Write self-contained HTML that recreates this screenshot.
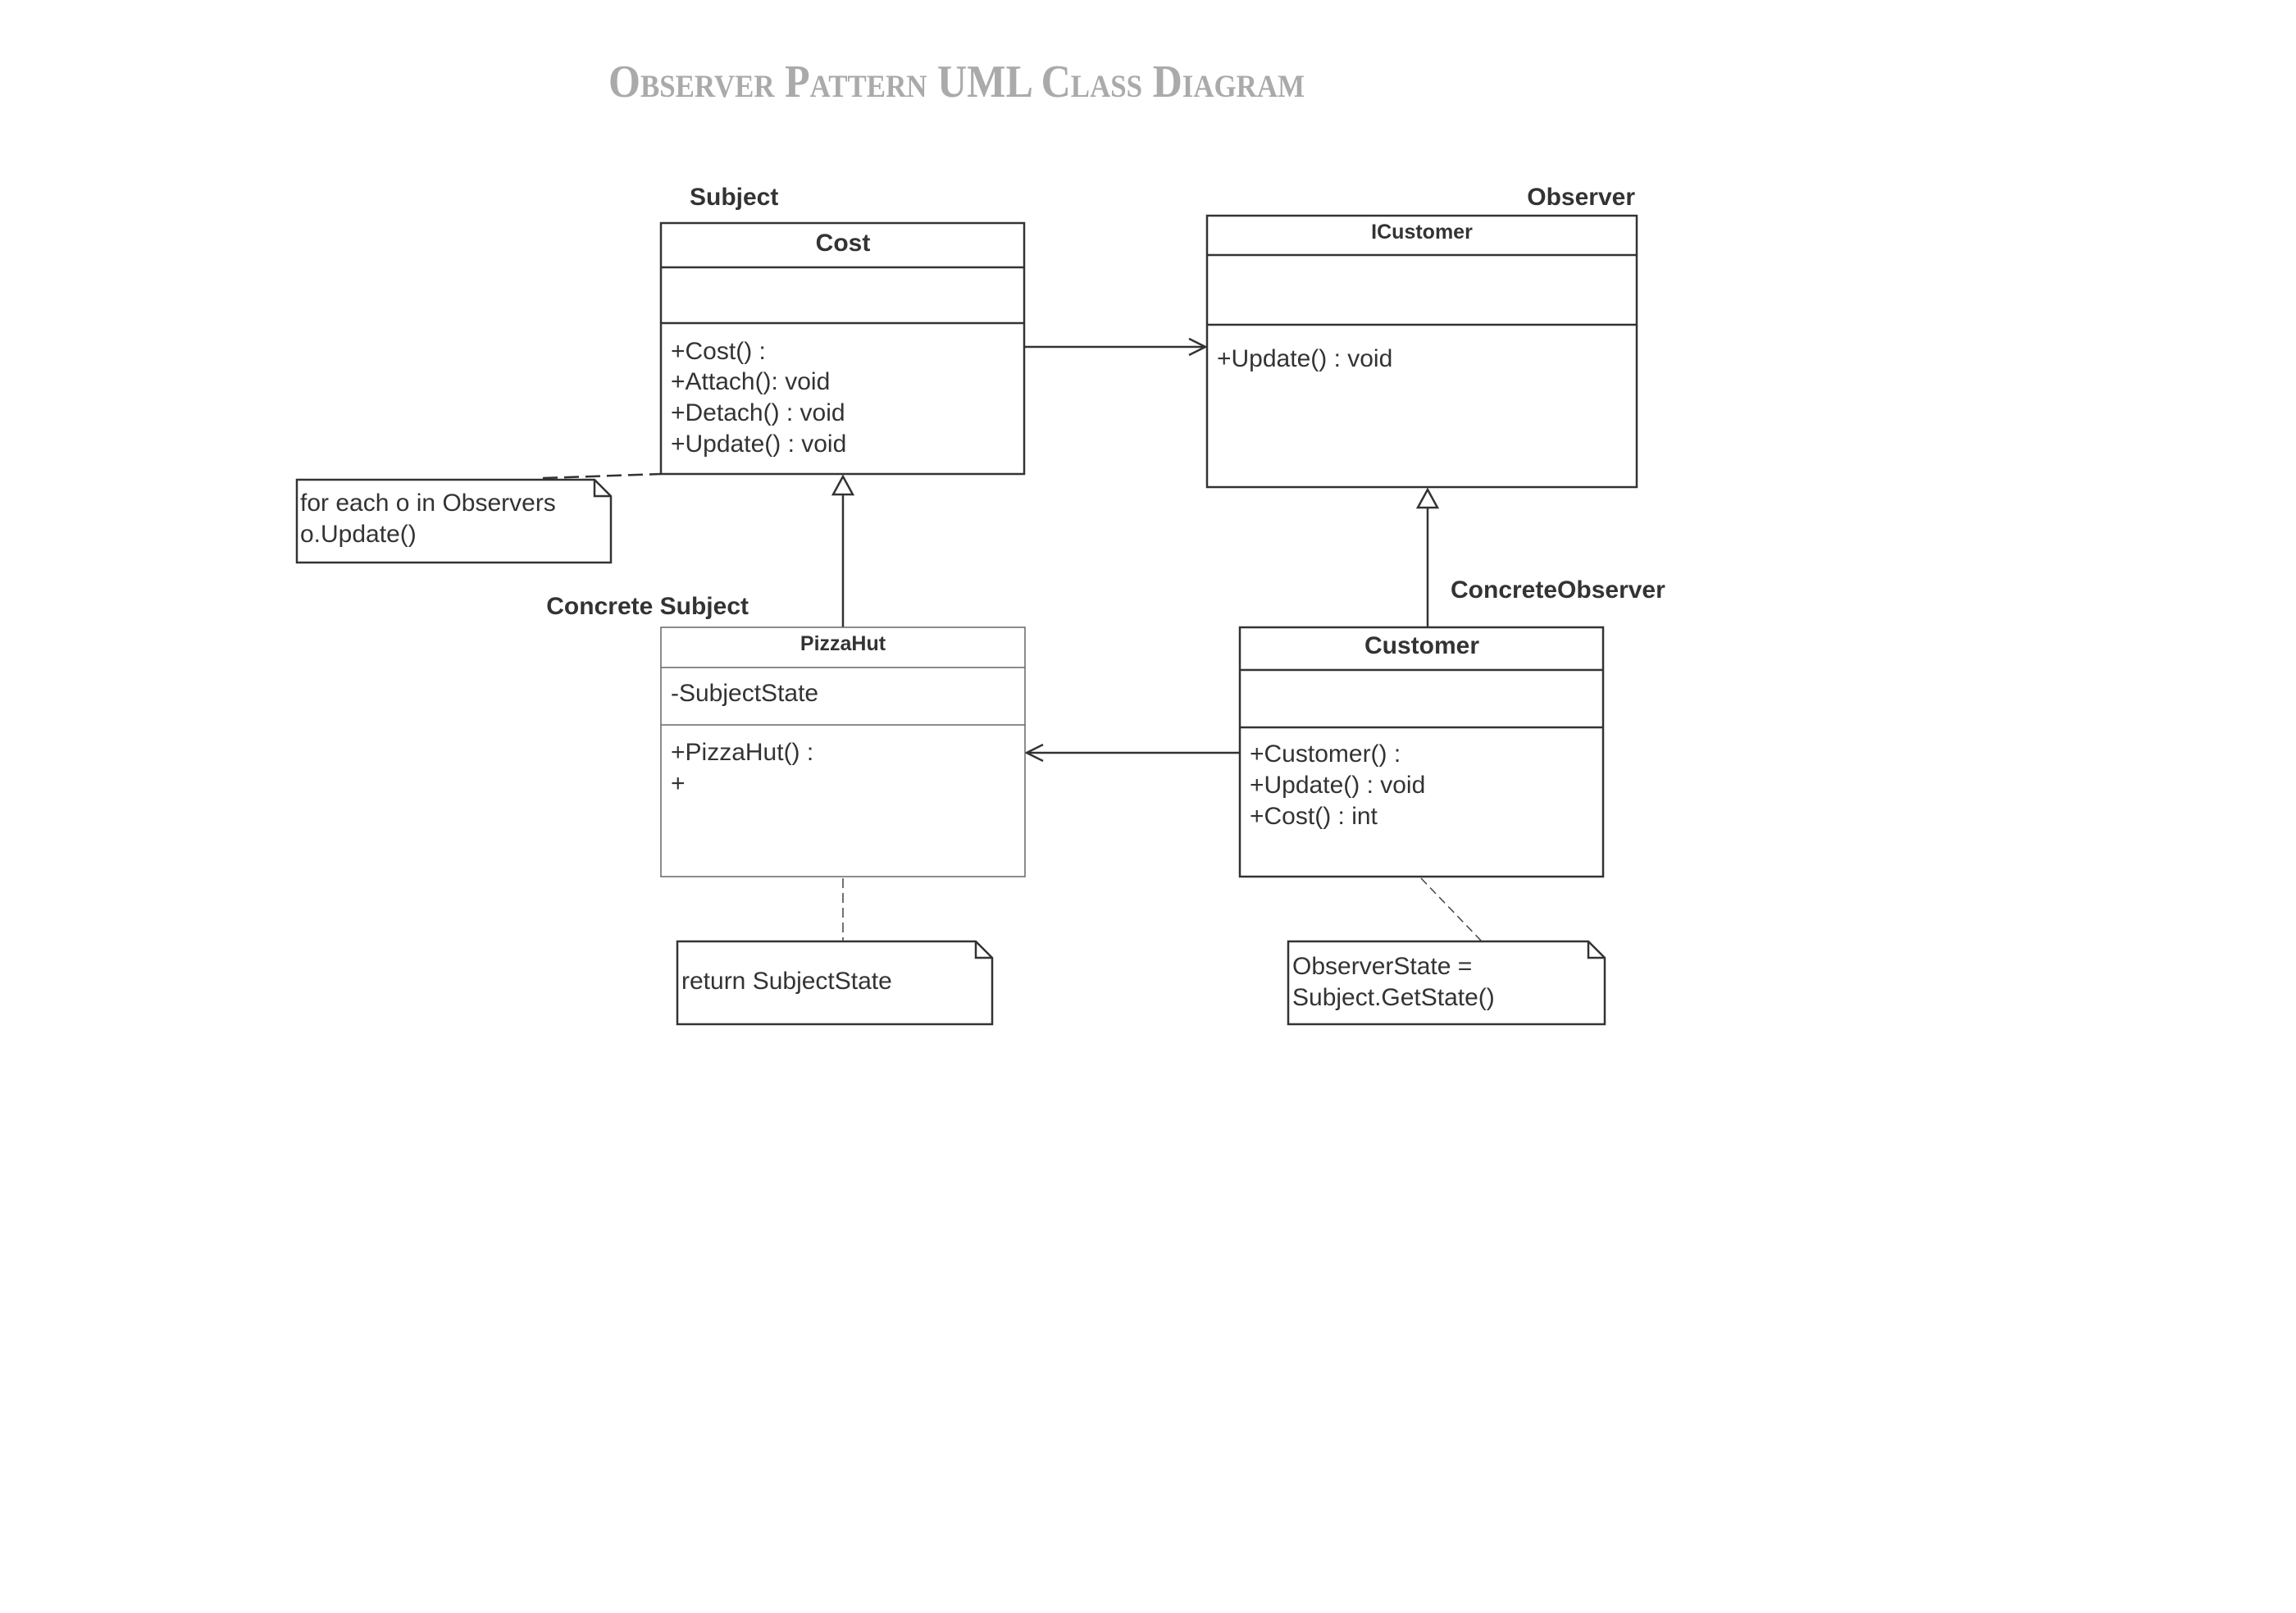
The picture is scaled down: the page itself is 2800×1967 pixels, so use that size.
<!DOCTYPE html>
<html><head><meta charset="utf-8"><style>
html,body{margin:0;padding:0;background:#fff;}
svg{display:block;}
text{font-family:"Liberation Sans",sans-serif;fill:#333;}
</style></head><body>
<svg width="2800" height="1967" viewBox="0 0 2800 1967" xmlns="http://www.w3.org/2000/svg">
<text x="742" y="118" font-family="Liberation Serif" font-weight="bold" font-size="56" style="font-family:'Liberation Serif',serif;fill:#aaa;font-variant:small-caps" textLength="849" lengthAdjust="spacingAndGlyphs">Observer Pattern UML Class Diagram</text>

<g stroke="#333" stroke-width="2.5" fill="none">
<!-- Cost -->
<rect x="806" y="272" width="443" height="306" fill="#fff"/>
<line x1="806" y1="326" x2="1249" y2="326"/>
<line x1="806" y1="394" x2="1249" y2="394"/>
<!-- ICustomer -->
<rect x="1472" y="263" width="524" height="331" fill="#fff"/>
<line x1="1472" y1="311" x2="1996" y2="311"/>
<line x1="1472" y1="396" x2="1996" y2="396"/>
<!-- Customer -->
<rect x="1512" y="765" width="443" height="304" fill="#fff"/>
<line x1="1512" y1="817" x2="1955" y2="817"/>
<line x1="1512" y1="887" x2="1955" y2="887"/>
<!-- assoc arrows -->
<line x1="1249" y1="423" x2="1470" y2="423"/>
<polyline points="1450,413 1470,423 1450,433"/>
<line x1="1512" y1="918" x2="1252" y2="918"/>
<polyline points="1272,908 1252,918 1272,928"/>
<!-- generalizations -->
<line x1="1028" y1="604" x2="1028" y2="765"/>
<polygon points="1028,581 1016,603 1040,603" fill="#fff"/>
<line x1="1741" y1="620" x2="1741" y2="765"/>
<polygon points="1741,597 1729,619 1753,619" fill="#fff"/>
<!-- notes -->
<path d="M362 585 H725 L745 605 V686 H362 Z" fill="#fff"/>
<path d="M725 585 V605 H745"/>
<path d="M826 1148 H1190 L1210 1168 V1249 H826 Z" fill="#fff"/>
<path d="M1190 1148 V1168 H1210"/>
<path d="M1571 1148 H1937 L1957 1168 V1249 H1571 Z" fill="#fff"/>
<path d="M1937 1148 V1168 H1957"/>
<line x1="662" y1="583" x2="806" y2="578" stroke-dasharray="18,8"/>
</g>
<g stroke="#444" stroke-width="1.5" fill="none">
<rect x="806" y="765" width="444" height="304" fill="#fff" stroke="#666"/>
<line x1="806" y1="814" x2="1250" y2="814" stroke="#666"/>
<line x1="806" y1="884" x2="1250" y2="884" stroke="#666"/>
<line x1="1028" y1="1071" x2="1028" y2="1148" stroke-dasharray="12,6"/>
<line x1="1733" y1="1071" x2="1807" y2="1148" stroke-dasharray="10,6"/>
</g>

<g font-size="30">
<text x="841" y="250" font-weight="bold">Subject</text>
<text x="1994" y="250" font-weight="bold" text-anchor="end">Observer</text>
<text x="913" y="749" font-weight="bold" text-anchor="end">Concrete Subject</text>
<text x="1769" y="729" font-weight="bold">ConcreteObserver</text>
<text x="1028" y="306" font-weight="bold" text-anchor="middle">Cost</text>
<text x="1734" y="797" font-weight="bold" text-anchor="middle">Customer</text>
<text x="818" y="438">+Cost() :</text>
<text x="818" y="475">+Attach(): void</text>
<text x="818" y="513">+Detach() : void</text>
<text x="818" y="551">+Update() : void</text>
<text x="1484" y="447">+Update() : void</text>
<text x="818" y="855">-SubjectState</text>
<text x="818" y="927">+PizzaHut() :</text>
<text x="818" y="965">+</text>
<text x="1524" y="929">+Customer() :</text>
<text x="1524" y="967">+Update() : void</text>
<text x="1524" y="1005">+Cost() : int</text>
<text x="366" y="623">for each o in Observers</text>
<text x="366" y="661">o.Update()</text>
<text x="831" y="1206">return SubjectState</text>
<text x="1576" y="1188">ObserverState =</text>
<text x="1576" y="1226">Subject.GetState()</text>
</g>
<text x="1734" y="291" font-size="25" font-weight="bold" text-anchor="middle">ICustomer</text>
<text x="1028" y="793" font-size="25" font-weight="bold" text-anchor="middle">PizzaHut</text>
</svg>
</body></html>
